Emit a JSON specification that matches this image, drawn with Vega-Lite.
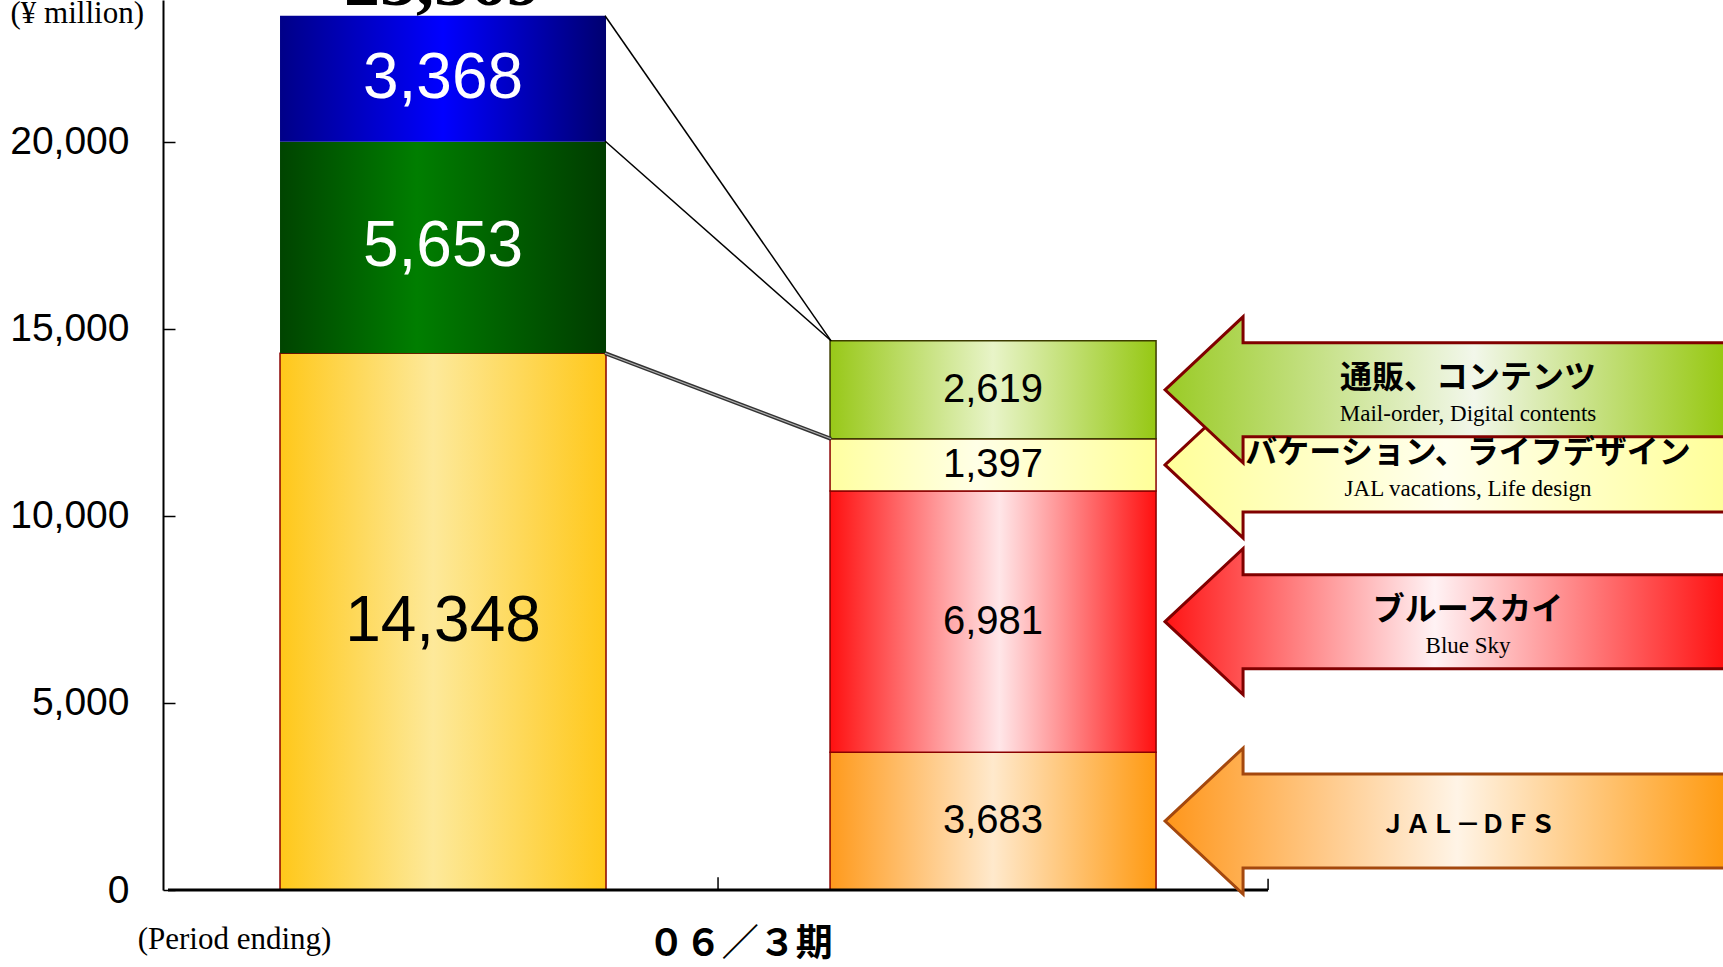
{
  "$schema": "https://vega.github.io/schema/vega-lite/v6.json",
  "width": 1560,
  "height": 890,
  "autosize": "none",
  "padding": {"left": 163, "top": 0, "right": 0, "bottom": 77},
  "background": "white",
  "config": {"view": {"stroke": null}},
  "datasets": {
    "segments": [
      {"period": 1, "segment": "Previous segment A", "value": 14348, "order": 1, "label_jp": "", "label_en": "", "label_single": ""},
      {"period": 1, "segment": "Previous segment B", "value": 5653, "order": 2, "label_jp": "", "label_en": "", "label_single": ""},
      {"period": 1, "segment": "Previous segment C", "value": 3368, "order": 3, "label_jp": "", "label_en": "", "label_single": ""},
      {"period": 2, "segment": "JAL-DFS", "value": 3683, "order": 1, "label_jp": "", "label_en": "", "label_single": "ＪＡＬ－ＤＦＳ"},
      {"period": 2, "segment": "Blue Sky", "value": 6981, "order": 2, "label_jp": "ブルースカイ", "label_en": "Blue Sky", "label_single": ""},
      {"period": 2, "segment": "JAL vacations, Life design", "value": 1397, "order": 3, "label_jp": "バケーション、ライフデザイン", "label_en": "JAL vacations, Life design", "label_single": ""},
      {"period": 2, "segment": "Mail-order, Digital contents", "value": 2619, "order": 4, "label_jp": "通販、コンテンツ", "label_en": "Mail-order, Digital contents", "label_single": ""}
    ],
    "links": [{"from": 23369, "to": 14680}, {"from": 20021, "to": 14680}],
    "links2": [{"from": 14348, "to": 12061}],
    "totals": [{"period": 1, "total": 23369}]
  },
  "layer": [
    {
      "data": {"name": "segments"},
      "mark": {"type": "bar", "orient": "vertical", "width": 326, "strokeWidth": 1.5},
      "encoding": {
        "x": {"field": "period", "type": "quantitative", "title": null, "scale": {"domain": [0.5, 3.318], "nice": false, "zero": false}, "axis": null},
        "y": {
          "field": "value", "type": "quantitative", "stack": "zero", "title": null,
          "scale": {"domain": [0, 23790], "nice": false, "zero": true},
          "axis": {
            "values": [0, 5000, 10000, 15000, 20000], "labelExpr": "format(datum.value, ',')", "grid": false,
            "domainColor": "black", "domainWidth": 2, "tickColor": "black", "tickWidth": 1.5, "tickSize": -12,
            "labelFont": "Liberation Sans", "labelFontSize": 39, "labelColor": "black", "labelPadding": 46, "labelBaseline": "middle"
          }
        },
        "detail": {"field": "segment"},
        "order": {"field": "order"},
        "fill": {
          "condition": [
            {"test": "datum.period == 1 && datum.order == 1", "value": {"gradient": "linear", "x1": 0, "y1": 0, "x2": 1, "y2": 0, "stops": [{"offset": 0, "color": "#ffc81a"}, {"offset": 0.47, "color": "#fde99a"}, {"offset": 1, "color": "#ffc81a"}]}},
            {"test": "datum.period == 1 && datum.order == 2", "value": {"gradient": "linear", "x1": 0, "y1": 0, "x2": 1, "y2": 0, "stops": [{"offset": 0, "color": "#004400"}, {"offset": 0.42, "color": "#007e00"}, {"offset": 1, "color": "#003c00"}]}},
            {"test": "datum.period == 1 && datum.order == 3", "value": {"gradient": "linear", "x1": 0, "y1": 0, "x2": 1, "y2": 0, "stops": [{"offset": 0, "color": "#000088"}, {"offset": 0.5, "color": "#0000ff"}, {"offset": 1, "color": "#000070"}]}},
            {"test": "datum.period == 2 && datum.order == 1", "value": {"gradient": "linear", "x1": 0, "y1": 0, "x2": 1, "y2": 0, "stops": [{"offset": 0, "color": "#ff9a1c"}, {"offset": 0.5, "color": "#ffe9cc"}, {"offset": 1, "color": "#ff9a12"}]}},
            {"test": "datum.period == 2 && datum.order == 2", "value": {"gradient": "linear", "x1": 0, "y1": 0, "x2": 1, "y2": 0, "stops": [{"offset": 0, "color": "#ff1010"}, {"offset": 0.52, "color": "#ffe6e8"}, {"offset": 1, "color": "#ff1010"}]}},
            {"test": "datum.period == 2 && datum.order == 3", "value": {"gradient": "linear", "x1": 0, "y1": 0, "x2": 1, "y2": 0, "stops": [{"offset": 0, "color": "#ffffa0"}, {"offset": 0.45, "color": "#ffffe6"}, {"offset": 1, "color": "#ffff99"}]}}
          ],
          "value": {"gradient": "linear", "x1": 0, "y1": 0, "x2": 1, "y2": 0, "stops": [{"offset": 0, "color": "#98c818"}, {"offset": 0.5, "color": "#e8f4c8"}, {"offset": 1, "color": "#96c814"}]}
        },
        "stroke": {
          "condition": [
            {"test": "datum.period == 1 && datum.order >= 2", "value": "transparent"},
            {"test": "datum.period == 2 && datum.order == 4", "value": "#3c3c00"}
          ],
          "value": "#8a0000"
        }
      }
    },
    {
      "data": {"name": "links"},
      "mark": {"type": "rule", "color": "black", "strokeWidth": 1.5},
      "encoding": {
        "x": {"datum": 1.2945},
        "x2": {"datum": 1.7055},
        "y": {"field": "from", "type": "quantitative", "title": null},
        "y2": {"field": "to"}
      }
    },
    {
      "data": {"name": "links2"},
      "mark": {"type": "rule", "color": "#333333", "strokeWidth": 4},
      "encoding": {
        "x": {"datum": 1.2945},
        "x2": {"datum": 1.7055},
        "y": {"field": "from", "type": "quantitative", "title": null},
        "y2": {"field": "to"}
      }
    },
    {
      "data": {"name": "links2"},
      "mark": {"type": "rule", "color": "#b0b0b0", "strokeWidth": 1.2},
      "encoding": {
        "x": {"datum": 1.2945},
        "x2": {"datum": 1.7055},
        "y": {"field": "from", "type": "quantitative", "title": null},
        "y2": {"field": "to"}
      }
    },
    {
      "data": {"name": "segments"},
      "mark": {"type": "text", "font": "Liberation Sans", "baseline": "middle", "align": "center"},
      "encoding": {
        "x": {"field": "period", "type": "quantitative", "title": null},
        "y": {"field": "value", "type": "quantitative", "stack": "zero", "bandPosition": 0.5, "title": null},
        "detail": {"field": "segment"},
        "order": {"field": "order"},
        "text": {"field": "value", "type": "quantitative", "format": ","},
        "size": {"condition": {"test": "datum.period == 1", "value": 64}, "value": 40},
        "color": {"condition": {"test": "datum.period == 1 && datum.order >= 2", "value": "white"}, "value": "black"}
      }
    },
    {
      "data": {"name": "totals"},
      "mark": {"type": "text", "font": "Liberation Serif", "fontWeight": "bold", "fontSize": 72, "baseline": "alphabetic", "align": "center", "dy": -11, "color": "black"},
      "encoding": {
        "x": {"field": "period", "type": "quantitative", "title": null},
        "y": {"field": "total", "type": "quantitative", "title": null},
        "text": {"field": "total", "type": "quantitative", "format": ","}
      }
    },
    {
      "data": {"values": [{}]},
      "mark": {"type": "rule", "color": "black", "strokeWidth": 3},
      "encoding": {"x": {"datum": 0.5}, "x2": {"datum": 2.5}, "y": {"datum": 0}}
    },
    {
      "data": {"values": [{}]},
      "mark": {"type": "rule", "color": "black", "strokeWidth": 1.5},
      "encoding": {"x": {"datum": 1.5}, "y": {"datum": 0}, "y2": {"datum": 340}}
    },
    {
      "data": {"values": [{}]},
      "mark": {"type": "rule", "color": "black", "strokeWidth": 1.5},
      "encoding": {"x": {"datum": 2.5}, "y": {"datum": 0}, "y2": {"datum": 300}}
    },
    {
      "data": {"name": "segments"},
      "transform": [{"filter": "datum.period == 2"}],
      "mark": {"type": "point", "shape": "M1.72,0L2.5,-0.73L2.5,-0.47L7.34,-0.47L7.34,0.47L2.5,0.47L2.5,0.73Z", "size": 40000, "filled": true, "opacity": 1, "strokeWidth": 3},
      "encoding": {
        "x": {"field": "period", "type": "quantitative", "title": null},
        "y": {"field": "value", "type": "quantitative", "stack": "zero", "bandPosition": 0.5, "title": null},
        "detail": {"field": "segment"},
        "order": {"field": "order"},
        "fill": {
          "condition": [
            {"test": "datum.order == 1", "value": {"gradient": "linear", "x1": 0, "y1": 0, "x2": 1, "y2": 0, "stops": [{"offset": 0, "color": "#ff961a"}, {"offset": 0.52, "color": "#fff4e6"}, {"offset": 1, "color": "#ff9a10"}]}},
            {"test": "datum.order == 2", "value": {"gradient": "linear", "x1": 0, "y1": 0, "x2": 1, "y2": 0, "stops": [{"offset": 0, "color": "#ff1414"}, {"offset": 0.48, "color": "#fff2f4"}, {"offset": 1, "color": "#ff1010"}]}},
            {"test": "datum.order == 3", "value": {"gradient": "linear", "x1": 0, "y1": 0, "x2": 1, "y2": 0, "stops": [{"offset": 0, "color": "#ffff99"}, {"offset": 0.5, "color": "#ffffee"}, {"offset": 1, "color": "#ffff99"}]}}
          ],
          "value": {"gradient": "linear", "x1": 0, "y1": 0, "x2": 1, "y2": 0, "stops": [{"offset": 0, "color": "#9acb25"}, {"offset": 0.55, "color": "#f2f7ea"}, {"offset": 1, "color": "#96c810"}]}
        },
        "stroke": {"condition": {"test": "datum.order == 1", "value": "#a4480e"}, "value": "#800000"}
      }
    },
    {
      "data": {"name": "segments"},
      "transform": [{"filter": "datum.period == 2"}],
      "mark": {"type": "text", "font": "Noto Sans CJK JP", "fontWeight": "bold", "fontSize": 32, "baseline": "middle", "align": "center", "dx": 475, "dy": -12, "color": "black"},
      "encoding": {
        "x": {"field": "period", "type": "quantitative", "title": null},
        "y": {"field": "value", "type": "quantitative", "stack": "zero", "bandPosition": 0.5, "title": null},
        "detail": {"field": "segment"},
        "order": {"field": "order"},
        "text": {"field": "label_jp"}
      }
    },
    {
      "data": {"name": "segments"},
      "transform": [{"filter": "datum.period == 2"}],
      "mark": {"type": "text", "font": "Liberation Serif", "fontSize": 23, "baseline": "middle", "align": "center", "dx": 475, "dy": 24, "color": "black"},
      "encoding": {
        "x": {"field": "period", "type": "quantitative", "title": null},
        "y": {"field": "value", "type": "quantitative", "stack": "zero", "bandPosition": 0.5, "title": null},
        "detail": {"field": "segment"},
        "order": {"field": "order"},
        "text": {"field": "label_en"}
      }
    },
    {
      "data": {"name": "segments"},
      "transform": [{"filter": "datum.period == 2"}],
      "mark": {"type": "text", "font": "Noto Sans CJK JP", "fontWeight": "bold", "fontSize": 25, "baseline": "middle", "align": "center", "dx": 475, "dy": 4, "color": "black"},
      "encoding": {
        "x": {"field": "period", "type": "quantitative", "title": null},
        "y": {"field": "value", "type": "quantitative", "stack": "zero", "bandPosition": 0.5, "title": null},
        "detail": {"field": "segment"},
        "order": {"field": "order"},
        "text": {"field": "label_single"}
      }
    },
    {
      "data": {"values": [{}]},
      "mark": {"type": "text", "font": "Liberation Serif", "fontSize": 31, "baseline": "middle", "align": "center", "color": "black"},
      "encoding": {"x": {"datum": 0.335}, "y": {"datum": 23410}, "text": {"value": "(¥ million)"}}
    },
    {
      "data": {"values": [{}]},
      "mark": {"type": "text", "font": "Liberation Serif", "fontSize": 31, "baseline": "middle", "align": "center", "color": "black"},
      "encoding": {"x": {"datum": 0.621}, "y": {"datum": -1337}, "text": {"value": "(Period ending)"}}
    },
    {
      "data": {"values": [{}]},
      "mark": {"type": "text", "font": "Noto Sans CJK JP", "fontWeight": "bold", "fontSize": 37, "baseline": "middle", "align": "center", "color": "black"},
      "encoding": {"x": {"datum": 1.5405}, "y": {"datum": -1471}, "text": {"value": "０６／３期"}}
    }
  ]
}
